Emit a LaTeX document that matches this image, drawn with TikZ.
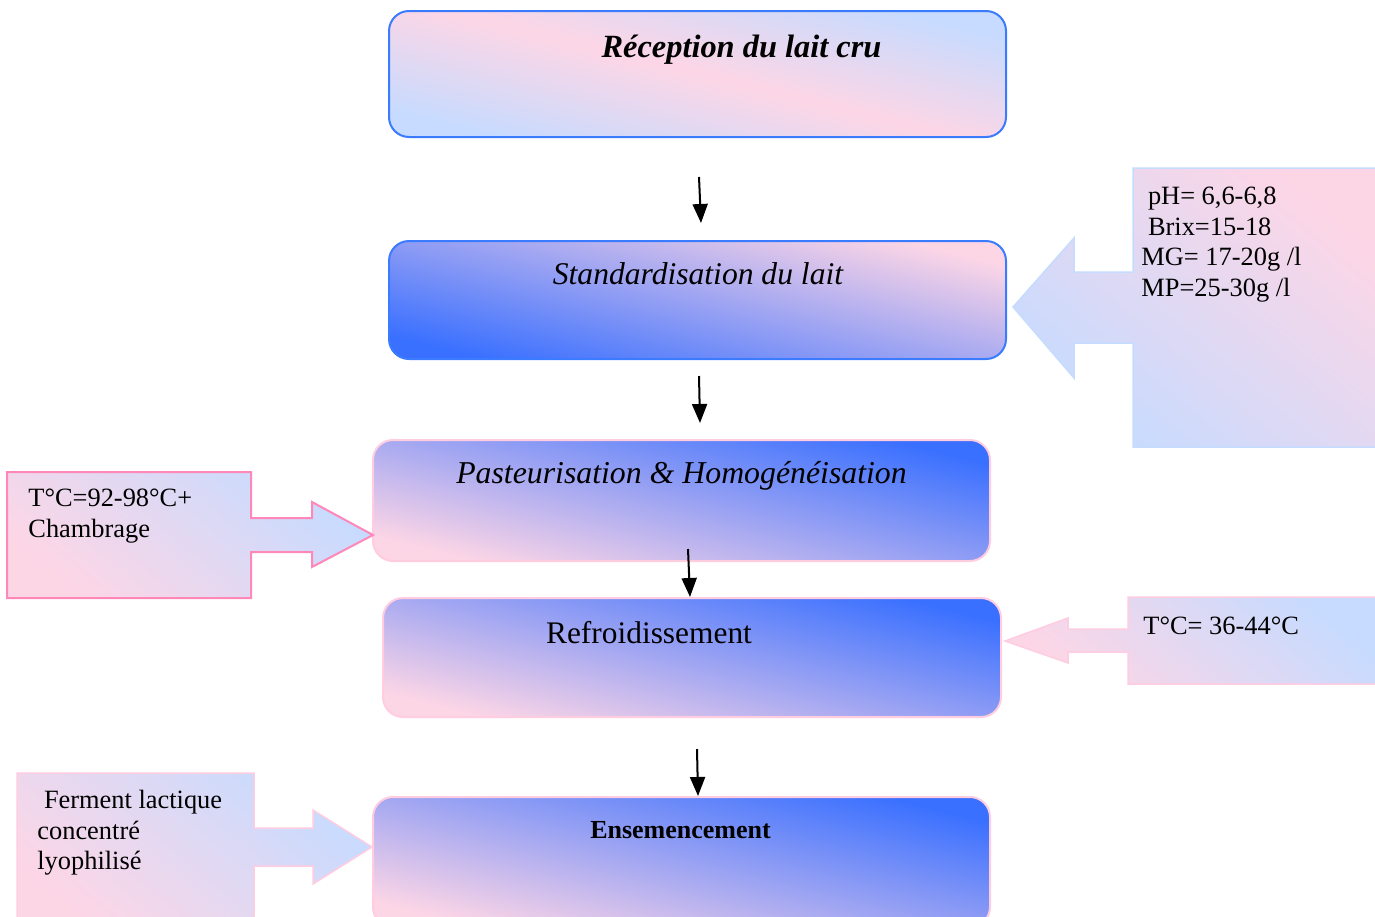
\documentclass[tikz,border=0pt]{standalone}
\usepackage{fontspec}
\setmainfont{Liberation Serif}
\usetikzlibrary{arrows.meta}

\definecolor{rose}{HTML}{FDD6E6}
\definecolor{bleuclair}{HTML}{C6DBFF}
\definecolor{bleufonce}{HTML}{3A70FF}
\definecolor{bordbleu}{HTML}{3A7BFF}
\definecolor{bordrose}{HTML}{FFCCE0}
\definecolor{rosevif}{HTML}{FF88B8}
\definecolor{bordbleuclair}{HTML}{C6DCFF}

\begin{document}
\begin{tikzpicture}[x=0.5pt,y=-0.5pt,
    etape/.style={rounded corners=10pt, inner sep=0pt, line width=1pt},
    biais/.style={shading angle=-14},
    biaisnote/.style={shading angle=-40},
    titre/.style={anchor=base, inner sep=0pt, font=\fontsize{15.7}{18}\selectfont},
    note/.style={anchor=north west, inner sep=0pt, align=left, font=\fontsize{13.2}{15.2}\selectfont},
    fleche/.style={line width=1pt, -{Triangle[length=9.5pt,width=7.5pt]}}]
        \useasboundingbox (0,0) rectangle (1375,916);
        \clip (0,0) rectangle (1375,916);

        % 各步骤
        \node[etape, draw=bordbleu, top color=bleuclair, bottom color=bleuclair, middle color=rose, biais,
              minimum width=308.5pt, minimum height=63pt] (recep) at (697.5,74) {};
        \node[etape, draw=bordbleu, top color=rose, bottom color=bleufonce, biais,
              minimum width=308.5pt, minimum height=59pt] (stand) at (697.5,300) {};
        \node[etape, draw=bordrose, top color=bleufonce, bottom color=rose, biais,
              minimum width=308.5pt, minimum height=60.5pt] (pasteur) at (681.5,500.5) {};
        \node[etape, draw=bordrose, top color=bleufonce, bottom color=rose, biais,
              minimum width=309pt, minimum height=59.5pt] (refroid) at (692,657.5) {};
        \node[etape, draw=bordrose, top color=bleufonce, bottom color=rose, biais,
              minimum width=308.5pt, minimum height=65pt] (ensem) at (681.5,862) {};

        \node[titre, font=\fontsize{16.2}{19}\selectfont\bfseries\itshape] (trecep) at (741.5,57) {Réception du lait cru};
        \node[titre, font=\fontsize{15.8}{18}\selectfont\itshape] (tstand) at (698,284) {Standardisation du lait};
        \node[titre, font=\fontsize{15.9}{18}\selectfont\itshape] (tpasteur) at (681.5,483) {Pasteurisation \& Homogénéisation};
        \node[titre] (trefroid) at (649,643) {Refroidissement};
        \node[titre, font=\fontsize{13}{15}\selectfont\bfseries] (tensem) at (680.5,838) {Ensemencement};

        % 箭头
        \coordinate (a1) at (699,177);
        \coordinate (b1) at (701,223);
        \coordinate (a2) at (699,376);
        \coordinate (b2) at (700,423);
        \coordinate (a3) at (688,549);
        \coordinate (b3) at (690,597);
        \coordinate (a4) at (697,749);
        \coordinate (b4) at (698,796);
        \draw[fleche] (a1) -- (b1);
        \draw[fleche] (a2) -- (b2);
        \draw[fleche] (a3) -- (b3);
        \draw[fleche] (a4) -- (b4);

        % 侧边箭头框
        \path[draw=bordbleuclair, line width=0.75pt, top color=rose, bottom color=bleuclair, biaisnote]
            (1133,168) -- (1380,168) -- (1380,447) -- (1133,447) -- (1133,343) -- (1074,343) -- (1074,378)
            -- (1013,307) -- (1074,238) -- (1074,272) -- (1133,272) -- cycle;
        \path[draw=rosevif, line width=1pt, top color=bleuclair, bottom color=rose, biaisnote]
            (7,472) -- (251,472) -- (251,518) -- (312,518) -- (312,502) -- (373,535) -- (312,567)
            -- (312,552) -- (251,552) -- (251,598) -- (7,598) -- cycle;
        \path[draw=bordrose, line width=0.75pt, top color=bleuclair, bottom color=rose, biaisnote]
            (1128,597) -- (1380,597) -- (1380,684) -- (1128,684) -- (1128,652) -- (1068,652) -- (1068,663)
            -- (1005,641) -- (1068,618) -- (1068,629) -- (1128,629) -- cycle;
        \path[draw=bordrose, line width=0.75pt, top color=bleuclair, bottom color=rose, biaisnote]
            (17,773) -- (254,773) -- (254,828) -- (313,828) -- (313,810) -- (372,847) -- (313,884)
            -- (313,866) -- (254,866) -- (254,930) -- (17,930) -- cycle;

        \node[note] (npH) at (1141,187) {\hspace{3.3pt}pH= 6,6-6,8\\ \hspace{3.3pt}Brix=15-18\\ MG= 17-20g /l\\ MP=25-30g /l};
        \node[note] (nT1) at (28,489) {T°C=92-98°C+\\ Chambrage};
        \node[note] (nT2) at (1143,617) {T°C= 36-44°C};
        \node[note] (nferm) at (37,790) {\hspace{3.3pt}Ferment lactique\\ concentré\\ lyophilisé};
    \end{tikzpicture}
\end{document}
